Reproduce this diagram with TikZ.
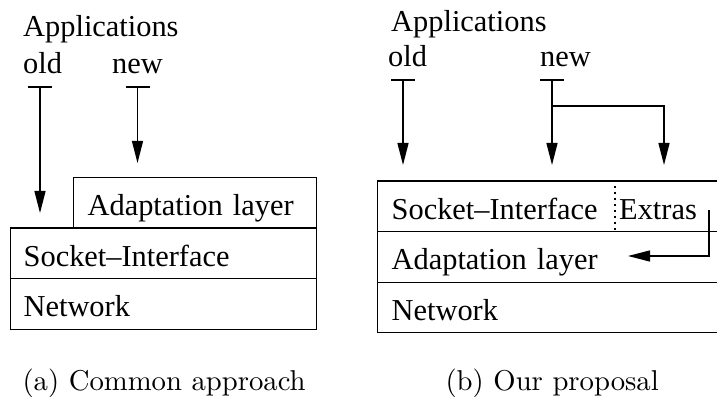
\documentclass[tikz,border=0pt]{standalone}
\usepackage{fontspec}
\newfontfamily\tms{Liberation Serif}
\usetikzlibrary{arrows.meta}
\begin{document}
\begin{tikzpicture}[x=1pt,y=-1pt,
  ln/.style={line width=1.3pt},
  arr/.style={ln,-{Triangle[length=22pt,width=11pt]}},
  txt/.style={font=\tms\fontsize{30.4}{36}\selectfont, inner sep=0pt, anchor=base west},
  layer/.style={draw, ln, font=\tms\fontsize{30.4}{36}\selectfont, anchor=north west,
    inner ysep=0pt, text height=38pt, text depth=12.5pt, align=left},
  captext/.style={font=\fontsize{10}{12}\selectfont, scale=2.87, inner sep=0pt, anchor=base west},
  tickmark/.style={ln}]
\useasboundingbox (0,0) rectangle (717,403);
\clip (0,0) rectangle (717,403);
% ---------- (a) ----------
\node[txt] (appL) at (23,37) {Applications};
\node[txt] (oldL) at (23,74) {old};
\node[txt] (newL) at (112,74) {new};
\node[layer, inner xsep=14pt, text width=215pt] (adaptL) at (73,177) {Adaptation layer};
\node[layer, inner xsep=13pt, text width=280pt] (sockL) at (10,227.5) {Socket–Interface};
\node[layer, inner xsep=13pt, text width=280pt] (netL) at (10,278) {Network};
\coordinate (toL) at (40,87);
\coordinate (tnL) at (137.5,87);
\draw[tickmark] ([xshift=-12pt]toL) -- ([xshift=12pt]toL);
\draw[tickmark] ([xshift=-12pt]tnL) -- ([xshift=12pt]tnL);
\draw[arr, shorten >=14.5pt] (toL) -- (toL |- sockL.north);
\draw[arr, shorten >=14pt] (tnL) -- (tnL |- adaptL.north);
\node[captext] (capA) at (22,390) {(a) Common approach};
% ---------- (b) ----------
\node[txt] (appR) at (391,31.5) {Applications};
\node[txt] (oldR) at (388,67) {old};
\node[txt] (newR) at (540,67) {new};
\node[layer, inner xsep=14pt, text width=355pt] (sockR) at (377,180.5) {Socket–Interface};
\node[layer, inner xsep=14pt, text width=355pt] (adaptR) at (377,231) {Adaptation layer};
\node[layer, inner xsep=14pt, text width=355pt] (netR) at (377,281.5) {Network};
\node[txt] (extras) at (619,220) {Extras};
\coordinate (dv) at (615,0);
\draw[line width=1.2pt, dash pattern=on 1.5pt off 4.5pt] (sockR.north -| dv) -- (sockR.south -| dv);
\coordinate (toR) at (403,80);
\coordinate (tnR) at (552,80);
\coordinate (brR) at (552,106);
\coordinate (exR) at (664,0);
\draw[tickmark] ([xshift=-12pt]toR) -- ([xshift=12pt]toR);
\draw[tickmark] ([xshift=-12pt]tnR) -- ([xshift=12pt]tnR);
\draw[arr, shorten >=15.5pt] (toR) -- (toR |- sockR.north);
\draw[arr, shorten >=15.5pt] (tnR) -- (tnR |- sockR.north);
\draw[arr, shorten >=15.5pt] (brR) -| (exR |- sockR.north);
\coordinate (xtip) at (628,256);
\draw[arr] ([xshift=12pt]extras.east) |- (xtip);
\node[captext] (capB) at (445,390) {(b) Our proposal};
\end{tikzpicture}
\end{document}
